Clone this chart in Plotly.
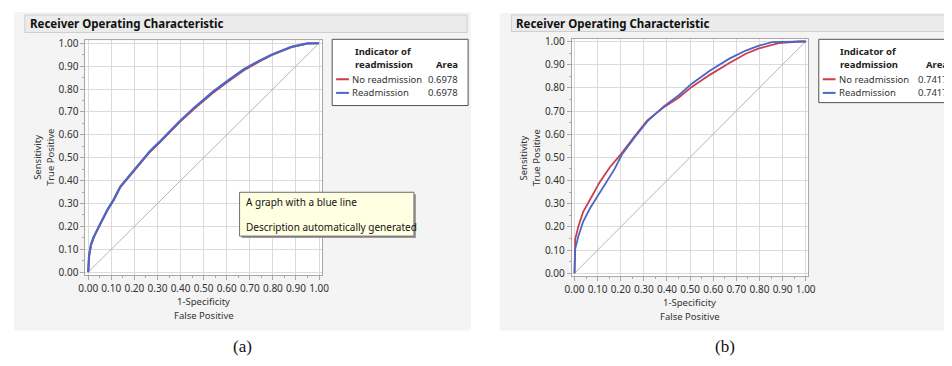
import plotly.graph_objects as go

# The page body has an 8px margin; keep the figure inside the 952x366 window.
OFF = 8
W, H = 952 - 2 * OFF, 366 - 2 * OFF

# ---------------- data ----------------
fpr_a = [0, 0.004, 0.012, 0.023, 0.047, 0.083, 0.111, 0.139, 0.182, 0.232, 0.267, 0.31,
         0.395, 0.46, 0.538, 0.60, 0.673, 0.744, 0.794, 0.88, 0.95, 1.0]
tpr_a_readm = [0, 0.074, 0.12, 0.152, 0.201, 0.272, 0.318, 0.374, 0.426, 0.485, 0.528, 0.57,
               0.658, 0.719, 0.786, 0.833, 0.885, 0.925, 0.95, 0.984, 0.999, 1.0]
tpr_a_noreadm = [0, 0.072, 0.118, 0.15, 0.199, 0.27, 0.316, 0.371, 0.423, 0.482, 0.525, 0.567,
                 0.655, 0.715, 0.782, 0.829, 0.881, 0.922, 0.948, 0.983, 0.999, 1.0]

fpr_b_readm = [0, 0, 0.003, 0.017, 0.038, 0.067, 0.102, 0.138, 0.173, 0.205, 0.259, 0.315,
               0.386, 0.45, 0.507, 0.585, 0.67, 0.741, 0.798, 0.855, 0.93, 1.0]
tpr_b_readm = [0, 0.09, 0.105, 0.161, 0.224, 0.28, 0.337, 0.393, 0.449, 0.512, 0.585, 0.655,
               0.72, 0.767, 0.818, 0.874, 0.926, 0.961, 0.982, 0.997, 1.0, 1.0]
fpr_b_noreadm = [0, 0, 0.003, 0.017, 0.038, 0.074, 0.109, 0.152, 0.202, 0.259, 0.315, 0.386,
                 0.45, 0.507, 0.585, 0.67, 0.741, 0.798, 0.884, 0.97, 1.0]
tpr_b_noreadm = [0, 0.125, 0.147, 0.203, 0.266, 0.33, 0.393, 0.456, 0.515, 0.59, 0.66, 0.716,
                 0.757, 0.804, 0.856, 0.907, 0.947, 0.97, 0.993, 1.0, 1.0]

diag = [0, 1]

legend_title = ["Indicator of", "readmission"]
series_names = ["No readmission", "Readmission"]
area_a = ["0.6978", "0.6978"]
area_b = ["0.7417", "0.7417"]
tick_vals = [i / 10 for i in range(11)]
tick_text = ["%.2f" % v for v in tick_vals]

RED = "#cc3d4e"
BLUE = "#4a66c6"
GRAY = "#b4b4b4"
FONT = "Noto Sans"

def px(x):
    return (x - OFF) / W

def py(y):
    return 1 - (y - OFF) / H

fig = go.Figure()

# ---------------- traces ----------------
panels = [
    dict(ax="", fpr_r=fpr_a, tpr_r=tpr_a_noreadm, fpr_b=fpr_a, tpr_b=tpr_a_readm, wb=2.2, wr=2.0),
    dict(ax="2", fpr_r=fpr_b_noreadm, tpr_r=tpr_b_noreadm, fpr_b=fpr_b_readm, tpr_b=tpr_b_readm, wb=1.8, wr=1.8),
]
for p in panels:
    xa, ya = "x" + p["ax"], "y" + p["ax"]
    fig.add_trace(go.Scatter(x=diag, y=diag, mode="lines", line=dict(color=GRAY, width=1),
                             xaxis=xa, yaxis=ya, showlegend=False, hoverinfo="skip"))
    fig.add_trace(go.Scatter(x=p["fpr_r"], y=p["tpr_r"], mode="lines", name=series_names[0],
                             line=dict(color=RED, width=p["wr"]), xaxis=xa, yaxis=ya, showlegend=False))
    fig.add_trace(go.Scatter(x=p["fpr_b"], y=p["tpr_b"], mode="lines", name=series_names[1],
                             line=dict(color=BLUE, width=p["wb"]), xaxis=xa, yaxis=ya, showlegend=False))

# ---------------- axes ----------------
def axis(domain, **kw):
    d = dict(domain=domain, range=[-0.012, 1.012], tickvals=tick_vals, ticktext=tick_text,
             showgrid=True, gridcolor="#dadada", gridwidth=1, zeroline=False,
             showline=True, linecolor="#a8a8a8", linewidth=1, mirror=True,
             ticks="outside", ticklen=4, tickcolor="#a8a8a8",
             minor=dict(tickvals=[i / 20 for i in range(1, 20, 2)], ticks="outside", ticklen=2,
                        tickcolor="#a8a8a8", showgrid=False),
             tickfont=dict(family=FONT, size=10, color="#303030"), fixedrange=True)
    d.update(kw)
    return d

fig.update_layout(
    xaxis=axis([px(79.5), px(319.5)], anchor="y"),
    yaxis=axis([py(276.8), py(36.2)], anchor="x"),
    xaxis2=axis([px(573.2), px(813.5)], anchor="y2"),
    yaxis2=axis([py(277.9), py(34.4)], anchor="x2"),
)

shapes = []
annotations = []

def rect(x0, y0, x1, y1, fill, line=None, lw=1, layer="below"):
    shapes.append(dict(type="rect", xref="paper", yref="paper", x0=px(x0), x1=px(x1),
                       y0=py(y1), y1=py(y0), fillcolor=fill, layer=layer,
                       line=dict(color=line or fill, width=lw if line else 0)))

def text(x, y, s, size=10, bold=False, anchor="left", color="#222", family=FONT, angle=0):
    annotations.append(dict(xref="paper", yref="paper", x=px(x), y=py(y), text=("<b>%s</b>" % s) if bold else s,
                            showarrow=False, xanchor=anchor, yanchor="middle", textangle=angle,
                            font=dict(family=family, size=size, color=color)))

# grey panel backgrounds
rect(7, 7, 471, 334, "#f4f4f4")
rect(500, 8, 970, 334, "#f4f4f4")
# white plot areas
rect(79.5, 36.2, 319.5, 276.8, "#ffffff")
rect(573.2, 34.4, 813.5, 277.9, "#ffffff")
# title bars
rect(18, 10, 467, 28, "#ebebeb", "#cfcfcf")
rect(512, 10, 970, 27, "#ebebeb", "#cfcfcf")
text(21, 19, "Receiver Operating Characteristic", size=11.5, bold=True, color="#111")
text(515, 18.5, "Receiver Operating Characteristic", size=11.5, bold=True, color="#111")

# axis titles
text(199.5, 304, "1-Specificity", size=9.5, anchor="center", color="#333")
text(199.5, 318, "False Positive", size=9.5, anchor="center", color="#333")
text(693, 305, "1-Specificity", size=9.5, anchor="center", color="#333")
text(693, 319, "False Positive", size=9.5, anchor="center", color="#333")
text(31, 156, "Sensitivity", size=9.5, anchor="center", color="#333", angle=-90)
text(44, 156, "True Positive", size=9.5, anchor="center", color="#333", angle=-90)
text(524, 157, "Sensitivity", size=9.5, anchor="center", color="#333", angle=-90)
text(537, 157, "True Positive", size=9.5, anchor="center", color="#333", angle=-90)

# legends
def legend(x0, y0, x1, y1, areas, hx, ax_right, ax_left=None):
    rect(x0, y0, x1, y1, "#ffffff", "#505050", 1, layer="above")
    text(hx, y0 + 12.5, legend_title[0], size=9.5, bold=True)
    text(hx, y0 + 26, legend_title[1], size=9.5, bold=True)
    if ax_left is None:
        text(ax_right, y0 + 26, "Area", size=9.5, bold=True, anchor="right")
    else:
        text(ax_left, y0 + 26, "Area", size=9.5, bold=True)
    for i, (nm, col) in enumerate(zip(series_names, [RED, BLUE])):
        yy = y0 + 41 + i * 14
        shapes.append(dict(type="line", xref="paper", yref="paper", x0=px(x0 + 4), x1=px(x0 + 17),
                           y0=py(yy), y1=py(yy), line=dict(color=col, width=2), layer="above"))
        text(x0 + 18.5, yy, nm, size=9.5, color="#333")
        if ax_left is None:
            text(ax_right, yy, areas[i], size=9.5, anchor="right", color="#333")
        else:
            text(ax_left - 8, yy, areas[i], size=9.5, color="#333")

legend(330, 35, 468, 103, area_a, 351, 460)
legend(824, 35, 990, 100, area_b, 844, None, ax_left=931)

# tooltip
rect(238, 194, 415, 239, "#9a9a9a", layer="above")
rect(236, 192, 413, 237, "#ffffe1", "#6e6e6e", 1, layer="above")
text(240, 202, "A graph with a blue line", size=10, color="#111")
text(240, 228, "Description automatically generated", size=10, color="#111")

# sub-figure labels
text(239, 350, "(a)", size=17, anchor="center", color="#111", family="Liberation Serif")
text(729, 350, "(b)", size=17, anchor="center", color="#111", family="Liberation Serif")

fig.update_layout(width=W, height=H, margin=dict(l=0, r=0, t=0, b=0),
                  paper_bgcolor="#ffffff", plot_bgcolor="#ffffff",
                  shapes=shapes, annotations=annotations, showlegend=False)

fig.write_html("out.html")
